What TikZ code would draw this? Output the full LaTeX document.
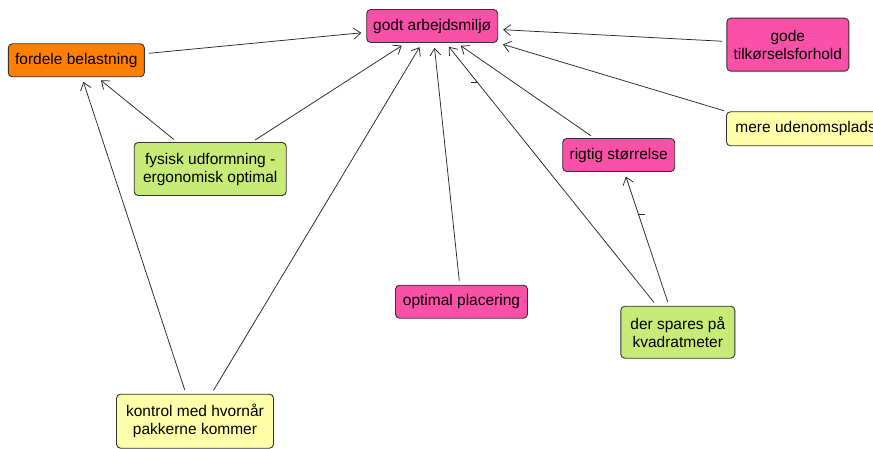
\documentclass[tikz,border=0pt]{standalone}
\usepackage{fontspec}
\setmainfont{Liberation Sans}
\usetikzlibrary{arrows.meta}

\definecolor{mapPink}{RGB}{250,80,168}
\definecolor{mapOrange}{RGB}{255,128,0}
\definecolor{mapGreen}{RGB}{200,235,120}
\definecolor{mapYellow}{RGB}{255,255,170}
\definecolor{edgeGray}{RGB}{50,50,50}
\definecolor{linkGray}{RGB}{40,40,40}

\tikzset{
  concept/.style={draw=edgeGray, line width=0.9pt, rounded corners=4pt,
    inner xsep=2pt, inner ysep=2pt, align=center, text=black,
    font=\fontsize{15.5}{18}\selectfont},
  pinkbox/.style={concept, fill=mapPink},
  orangebox/.style={concept, fill=mapOrange},
  greenbox/.style={concept, fill=mapGreen},
  yellowbox/.style={concept, fill=mapYellow},
  link/.style={draw=linkGray, line width=0.75pt,
    -{Straight Barb[length=7pt,width=11pt]},
    shorten >=5pt, shorten <=4pt},
  linkmark/.style={fill=linkGray, inner sep=0pt, outer sep=0pt,
    minimum width=6.5pt, minimum height=1pt}
}

\begin{document}
\begin{tikzpicture}[x=1pt,y=-1pt]
  \useasboundingbox (0,0) rectangle (873,449);
  \clip (0,0) rectangle (873,449);
  \fill[white] (0,0) rectangle (873,449);

  % concepts
  \node[pinkbox, minimum width=131pt, minimum height=33pt] (godt) at (432.2,26) {godt arbejdsmiljø};
  \node[orangebox, minimum width=136pt, minimum height=33pt] (fordele) at (76.3,60.3) {fordele belastning};
  \node[pinkbox, minimum width=122pt, minimum height=53pt] (gode) at (787.8,44.7) {gode\\tilkørselsforhold};
  \node[yellowbox, anchor=west, minimum height=34pt, inner xsep=9pt] (mere) at (726,128.8) {mere udenomsplads};
  \node[greenbox, minimum width=152pt, minimum height=53pt] (fysisk) at (210.2,169) {fysisk udformning -\\ergonomisk optimal};
  \node[pinkbox, minimum width=112pt, minimum height=33pt] (rigtig) at (618.7,155) {rigtig størrelse};
  \node[pinkbox, minimum width=132pt, minimum height=33pt] (optimal) at (461.5,301.7) {optimal placering};
  \node[greenbox, minimum width=114pt, minimum height=52pt] (der) at (677.8,332.2) {der spares på\\kvadratmeter};
  \node[yellowbox, minimum width=157pt, minimum height=54pt] (kontrol) at (195,421.2) {kontrol med hvornår\\pakkerne kommer};

  % links
  \draw[link] (fordele) -- (godt);
  \draw[link] (gode) -- (godt);
  \draw[link, shorten <=2pt] (mere.north west) -- (godt.south east);
  \draw[link] (fysisk) -- (fordele);
  \draw[link] (fysisk) -- (godt);
  \draw[link] (kontrol) -- (fordele);
  \draw[link] (kontrol) -- (godt);
  \draw[link] (optimal) -- (godt);
  \draw[link] (rigtig) -- (godt);
  \draw[link] (der) -- node[pos=0.851, anchor=east, linkmark] (mark1) {} (godt);
  \draw[link] (der) -- node[pos=0.685, anchor=west, linkmark] (mark2) {} (rigtig);
\end{tikzpicture}
\end{document}
